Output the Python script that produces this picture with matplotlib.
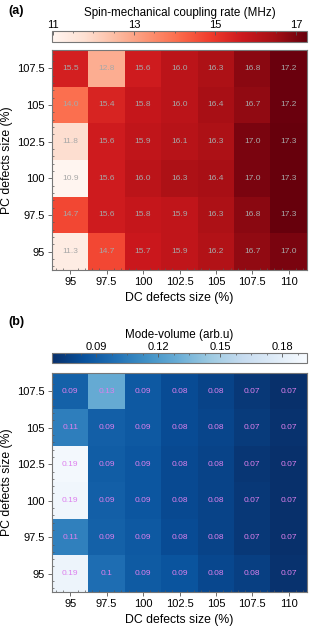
import numpy as np
import matplotlib
matplotlib.use("Agg")
import matplotlib.pyplot as plt
from matplotlib.ticker import MultipleLocator, FixedLocator

plt.rcParams['font.family'] = ['Liberation Sans', 'DejaVu Sans']

# axes categories
dc_sizes = [95, 97.5, 100, 102.5, 105, 107.5, 110]
pc_sizes = [107.5, 105, 102.5, 100, 97.5, 95]   # rows, top to bottom

# (a) spin-mechanical coupling rate (MHz)
coupling = np.array([
    [15.5, 12.8, 15.6, 16.0, 16.3, 16.8, 17.2],
    [14.0, 15.4, 15.8, 16.0, 16.4, 16.7, 17.2],
    [11.8, 15.6, 15.9, 16.1, 16.3, 17.0, 17.3],
    [10.9, 15.6, 16.0, 16.3, 16.4, 17.0, 17.3],
    [14.7, 15.6, 15.8, 15.9, 16.3, 16.8, 17.3],
    [11.3, 14.7, 15.7, 15.9, 16.2, 16.7, 17.0],
])

# (b) mode volume (arb.u)
mode_vol = np.array([
    [0.092, 0.128, 0.088, 0.082, 0.078, 0.073, 0.069],
    [0.106, 0.091, 0.088, 0.082, 0.079, 0.074, 0.070],
    [0.190, 0.090, 0.087, 0.081, 0.078, 0.072, 0.069],
    [0.188, 0.091, 0.087, 0.081, 0.078, 0.073, 0.069],
    [0.107, 0.092, 0.088, 0.082, 0.078, 0.073, 0.069],
    [0.186, 0.098, 0.089, 0.086, 0.080, 0.076, 0.070],
])

fig = plt.figure(figsize=(3.12, 6.29), dpi=100)

W, H = 312, 629
def px_axes(x0, y0, x1, y1):
    return fig.add_axes([x0 / W, 1 - y1 / H, (x1 - x0) / W, (y1 - y0) / H])

extent = [dc_sizes[0] - 1.25, dc_sizes[-1] + 1.25, pc_sizes[-1] - 1.25, pc_sizes[0] + 1.25]


def panel(ax, cax, data, cmap, vmin, vmax, fmt, txtcolor, cticks, cminor, clabel):
    im = ax.imshow(data, cmap=cmap, vmin=vmin, vmax=vmax, extent=extent,
                   aspect='auto', origin='upper', interpolation='nearest')
    for i, yv in enumerate(pc_sizes):
        for j, xv in enumerate(dc_sizes):
            ax.text(xv, yv, fmt(data[i, j]), ha='center', va='center',
                    fontsize=6, color=txtcolor)
    ax.set_xticks(dc_sizes)
    ax.set_xticklabels([f"{v:g}" for v in dc_sizes])
    ax.set_yticks(pc_sizes)
    ax.set_yticklabels([f"{v:g}" for v in pc_sizes])
    ax.xaxis.set_minor_locator(MultipleLocator(0.5))
    ax.yaxis.set_minor_locator(MultipleLocator(0.5))
    ax.tick_params(which='major', direction='out', length=3, width=0.6,
                   labelsize=8, color='#555555', pad=2)
    ax.tick_params(which='minor', direction='in', length=1.5, width=0.5, color='#555555')
    ax.set_xlabel('DC defects size (%)', fontsize=8.8, labelpad=4)
    ax.set_ylabel('PC defects size (%)', fontsize=8.8, labelpad=3)
    for s in ax.spines.values():
        s.set_color('#777777')
        s.set_linewidth(0.8)

    cb = fig.colorbar(im, cax=cax, orientation='horizontal')
    cax.xaxis.set_ticks_position('top')
    cax.xaxis.set_label_position('top')
    cb.set_ticks(cticks)
    cb.ax.xaxis.set_minor_locator(FixedLocator(cminor))
    cax.tick_params(which='major', direction='in', length=3, width=0.6,
                    labelsize=8, color='#555555', pad=0.5)
    cax.tick_params(which='minor', direction='in', length=1.5, width=0.5, color='#555555')
    cb.set_label(clabel, fontsize=8.4, labelpad=3)
    cb.outline.set_edgecolor('#777777')
    cb.outline.set_linewidth(0.8)


# panel (a)
ax_a = px_axes(52, 50, 307, 270)
cax_a = px_axes(52, 31, 307, 42)
panel(ax_a, cax_a, coupling, 'Reds', 10.98, 17.26, lambda v: f"{v:.1f}", '#a8a8a8',
      [11, 13, 15, 17], np.arange(11, 17.3, 0.5), 'Spin-mechanical coupling rate (MHz)')
fig.text(8 / W, 1 - 11 / H, '(a)', fontsize=9, fontweight='bold', va='center')

# panel (b)
ax_b = px_axes(52, 373, 307, 592)
cax_b = px_axes(52, 353, 307, 363)
panel(ax_b, cax_b, mode_vol, 'Blues_r', 0.0687, 0.192, lambda v: f"{round(v, 2):g}", '#dd80ee',
      [0.09, 0.12, 0.15, 0.18], np.arange(0.075, 0.192, 0.0075), 'Mode-volume (arb.u)')
fig.text(8 / W, 1 - 322 / H, '(b)', fontsize=9, fontweight='bold', va='center')

fig.savefig('out.png', dpi=100)
